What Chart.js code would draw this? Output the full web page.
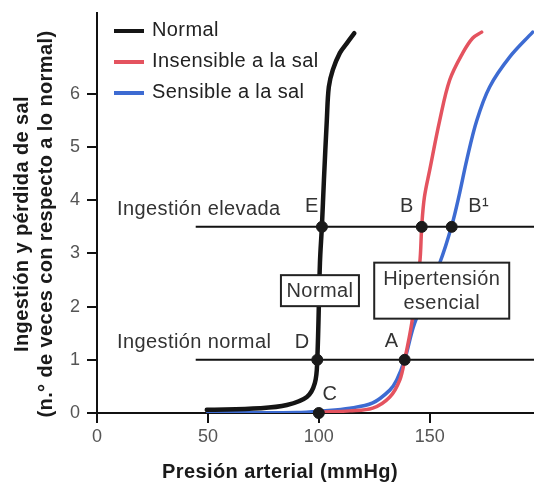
<!DOCTYPE html>
<html>
<head>
<meta charset="utf-8">
<script src="https://cdn.jsdelivr.net/npm/chart.js@4.4.1/dist/chart.umd.min.js"></script>
<style>
  body { margin: 0; background: #fff; }
  canvas { display: block; }
</style>
</head>
<body>
<canvas id="chart" width="534" height="484"></canvas>
<script>
// curves (x = mmHg, y = times normal)
const normalX = [49.5, 73.4, 85.6, 94.6, 98.2, 99.3, 100.5, 101.4, 102.3, 103.6, 104.5, 106.3, 109.5, 112.6, 116];
const normalY = [0.06, 0.09, 0.15, 0.3, 0.56, 1.0, 2.82, 3.52, 4.38, 5.5, 6.13, 6.45, 6.77, 6.95, 7.14];

const insensX = [100.5, 114, 124.3, 132, 136.5, 138.7, 141.9, 145.5, 146.4, 147.6, 150, 154.5, 159, 164.9, 169.4, 173.4];
const insensY = [0.02, 0.04, 0.09, 0.3, 0.62, 1.0, 1.69, 2.82, 3.52, 4.06, 4.57, 5.5, 6.26, 6.77, 7.05, 7.16];

const sensX = [50, 90, 101.8, 114, 124.3, 132, 135.1, 138.7, 143.2, 154.5, 159.9, 163.5, 166.7, 171.2, 177, 186, 196.4];
const sensY = [0.01, 0.01, 0.04, 0.09, 0.19, 0.43, 0.62, 1.0, 1.69, 2.82, 3.52, 4.14, 4.76, 5.5, 6.13, 6.69, 7.16];

const seriesLabels = ['Normal', 'Insensible a la sal', 'Sensible a la sal'];

// intake levels
const intakeLabels = ['Ingestión normal', 'Ingestión elevada'];
const intakeLevels = [1, 3.5];
const intakeStart = 44.5;
const intakeEnd = 197;

// equilibrium points
const pointNames = ['C', 'D', 'E', 'A', 'B', 'B\u00b9'];
const pointX = [100, 99.3, 101.4, 138.7, 146.4, 159.9];
const pointY = [0, 1, 3.5, 1, 3.5, 3.5];

const xTicks = [0, 50, 100, 150];
const yTicks = [0, 1, 2, 3, 4, 5, 6];

const FONT = '"Liberation Sans", Arial, Helvetica, sans-serif';
const colors = ['#151515', '#e4535f', '#3d6bd2'];

function pts(xs, ys) {
    return xs.map((x, i) => ({ x: x, y: ys[i] }));
}

const curveDatasets = [
    { data: pts(normalX, normalY), width: 4.5 },
    { data: pts(insensX, insensY), width: 3.5 },
    { data: pts(sensX, sensY), width: 3.5 }
].map((c, i) => ({
    label: seriesLabels[i],
    data: c.data,
    borderColor: colors[i],
    borderWidth: c.width,
    pointRadius: 0,
    showLine: true,
    tension: 0.35,
    borderCapStyle: 'round'
}));

const intakeDatasets = intakeLevels.map((lvl, i) => ({
    label: intakeLabels[i],
    data: [{ x: intakeStart, y: lvl }, { x: intakeEnd, y: lvl }],
    borderColor: '#111',
    borderWidth: 2,
    pointRadius: 0,
    showLine: true
}));

const markerDataset = {
    label: 'points',
    data: pts(pointX, pointY),
    backgroundColor: '#1a1a1a',
    borderColor: '#1a1a1a',
    pointRadius: 5.5,
    showLine: false,
    clip: false
};

// letter offsets (px) from each point
const letterOffsets = [[11, -19], [-15, -17], [-10, -20], [-13, -18], [-15, -20], [27, -20]];

const annotations = {
    id: 'annotations',
    afterDatasetsDraw(chart) {
        const ctx = chart.ctx;
        const xs = chart.scales.x, ys = chart.scales.y;
        ctx.save();
        ctx.textBaseline = 'middle';
        ctx.letterSpacing = '0.4px';

        // intake labels
        ctx.fillStyle = '#333';
        ctx.font = '20px ' + FONT;
        ctx.textAlign = 'left';
        intakeLevels.forEach((lvl, i) => {
            ctx.fillText(intakeLabels[i], 117, ys.getPixelForValue(lvl) - 17);
        });

        // letters
        ctx.textAlign = 'center';
        pointNames.forEach((name, i) => {
            const px = xs.getPixelForValue(pointX[i]) + letterOffsets[i][0];
            const py = ys.getPixelForValue(pointY[i]) + letterOffsets[i][1];
            ctx.fillText(name, px, py);
        });

        // boxes
        function box(cx, cy, w, h, lines) {
            ctx.fillStyle = '#fff';
            ctx.fillRect(cx - w / 2, cy - h / 2, w, h);
            ctx.strokeStyle = '#222';
            ctx.lineWidth = 2;
            ctx.strokeRect(cx - w / 2, cy - h / 2, w, h);
            ctx.fillStyle = '#333';
            ctx.font = '20px ' + FONT;
            const lh = 24;
            lines.forEach((t, k) => {
                ctx.fillText(t, cx, cy + 1 + (k - (lines.length - 1) / 2) * lh);
            });
        }
        box(xs.getPixelForValue(100.5), ys.getPixelForValue(2.3), 78, 31, ['Normal']);
        box(xs.getPixelForValue(155.4), ys.getPixelForValue(2.3), 135, 56, ['Hipertensión', 'esencial']);

        // legend
        ctx.textAlign = 'left';
        ctx.font = '20px ' + FONT;
        seriesLabels.forEach((lab, i) => {
            const y = 31 + i * 31;
            ctx.strokeStyle = colors[i];
            ctx.lineWidth = 4;
            ctx.beginPath();
            ctx.moveTo(114, y);
            ctx.lineTo(144, y);
            ctx.stroke();
            ctx.fillStyle = '#222';
            ctx.fillText(lab, 152, y - 1);
        });

        // axis titles
        ctx.fillStyle = '#1a1a1a';
        ctx.font = 'bold 20px ' + FONT;
        ctx.textAlign = 'center';
        ctx.fillText('Presión arterial (mmHg)', 280, 472);
        ctx.save();
        ctx.translate(22, 224);
        ctx.rotate(-Math.PI / 2);
        ctx.fillText('Ingestión y pérdida de sal', 0, 0);
        ctx.fillText('(n.° de veces con respecto a lo normal)', 0, 24);
        ctx.restore();

        ctx.restore();
    }
};

new Chart(document.getElementById('chart').getContext('2d'), {
    type: 'scatter',
    data: {
        datasets: [markerDataset].concat(curveDatasets, intakeDatasets)
    },
    options: {
        responsive: false,
        animation: false,
        layout: { autoPadding: false, padding: { top: 13, right: 0, bottom: 0, left: 0 } },
        plugins: {
            legend: { display: false },
            tooltip: { enabled: false }
        },
        scales: {
            x: {
                type: 'linear',
                min: 0,
                max: 197,
                afterBuildTicks: s => { s.ticks = xTicks.map(v => ({ value: v })); },
                afterFit: s => { s.height = 71; s.paddingLeft = 0; s.paddingRight = 0; },
                grid: { drawOnChartArea: false, tickLength: 10, color: '#111', lineWidth: 2 },
                border: { color: '#111', width: 2 },
                ticks: { padding: 3, color: '#555', font: { size: 18, family: FONT } }
            },
            y: {
                type: 'linear',
                min: 0,
                max: 7.52,
                afterBuildTicks: s => { s.ticks = yTicks.map(v => ({ value: v })); },
                afterFit: s => { s.width = 97; s.paddingTop = 0; s.paddingBottom = 0; },
                grid: { drawOnChartArea: false, tickLength: 10, color: '#111', lineWidth: 2 },
                border: { color: '#111', width: 2 },
                ticks: { padding: 7, color: '#555', font: { size: 18, family: FONT } }
            }
        }
    },
    plugins: [annotations]
});
</script>
</body>
</html>
